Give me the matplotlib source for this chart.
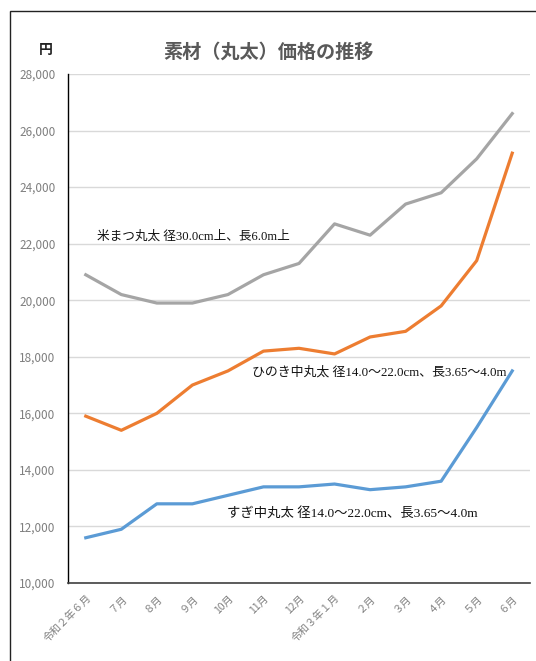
import matplotlib
matplotlib.use("Agg")
import matplotlib.pyplot as plt
from matplotlib.patches import Rectangle

plt.rcParams['font.family'] = ['Noto Sans CJK JP', 'DejaVu Sans']

months = ["令和２年６月", "７月", "８月", "９月", "10月", "11月", "12月",
          "令和３年１月", "２月", "３月", "４月", "５月", "６月"]
beimatsu = [20900, 20200, 19900, 19900, 20200, 20900, 21300, 22700, 22300, 23400, 23800, 25000, 26600]
hinoki = [15900, 15400, 16000, 17000, 17500, 18200, 18300, 18100, 18700, 18900, 19800, 21400, 25200]
sugi = [11600, 11900, 12800, 12800, 13100, 13400, 13400, 13500, 13300, 13400, 13600, 15500, 17500]
yticks = list(range(10000, 28001, 2000))
label_beimatsu = "米まつ丸太 径30.0cm上、長6.0m上"
label_hinoki = "ひのき中丸太 径14.0～22.0cm、長3.65～4.0m"
label_sugi = "すぎ中丸太 径14.0～22.0cm、長3.65～4.0m"

fig = plt.figure(figsize=(5.36, 6.61), dpi=100)
fig.patches.append(Rectangle((10/536, -0.1), 1.2, 1.1 - 11/661,
                             transform=fig.transFigure, fill=False,
                             edgecolor='#222222', linewidth=1.0, clip_on=False))
ax = fig.add_axes([68/536, 1-583/661, 462/536, (583-74)/661])

x = list(range(len(months)))
ax.plot(x, beimatsu, color='#a5a5a5', lw=2.3, solid_joinstyle='round')
ax.plot(x, hinoki, color='#ed7d31', lw=2.3, solid_joinstyle='round')
ax.plot(x, sugi, color='#5b9bd5', lw=2.3, solid_joinstyle='round')

ax.set_xlim(-0.5, len(months) - 0.5)
ax.set_ylim(10000, 28000)
ax.set_yticks(yticks)
ax.set_yticklabels([f"{v:,}" for v in yticks], fontsize=8.5)
ax.set_xticks(x)
ax.set_xticklabels(months, rotation=45, ha='right', rotation_mode='anchor', fontsize=7.5)
ax.tick_params(axis='both', length=0, colors='#7f7f7f')
ax.tick_params(axis='y', pad=9)
ax.tick_params(axis='x', pad=7)
ax.grid(axis='y', color='#d9d9d9', lw=1)
ax.set_axisbelow(True)
for s in ['top', 'right']:
    ax.spines[s].set_visible(False)
ax.spines['left'].set_color('#000000')
ax.spines['left'].set_linewidth(1.0)
ax.spines['bottom'].set_color('#404040')
ax.spines['bottom'].set_linewidth(1.2)

serif = ['Liberation Serif', 'Noto Sans CJK JP']
ax.text(0.31, 22250, label_beimatsu, fontsize=9.1, family=serif, va='center', color='#111111')
ax.text(4.68, 17450, label_hinoki, fontsize=9.3, family=serif, va='center', color='#111111')
ax.text(3.97, 12470, label_sugi, fontsize=9.6, family=serif, va='center', color='#111111')

fig.text(268/536, 1-52/661, "素材（丸太）価格の推移", ha='center', va='center',
         fontsize=13.8, fontweight='bold', color='#595959')
fig.text(46/536, 1-50/661, "円", ha='center', va='center', fontsize=10,
         fontweight='bold', color='#222222')

fig.savefig("out.png", dpi=100)
